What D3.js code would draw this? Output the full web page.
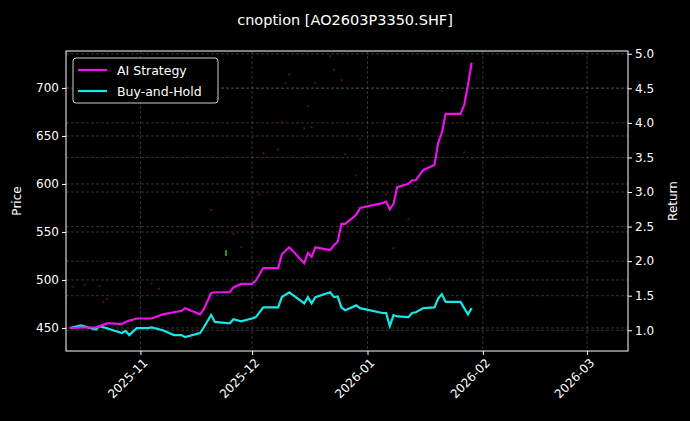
<!DOCTYPE html><html><head><meta charset="utf-8">
<script src="https://cdn.jsdelivr.net/npm/d3@7"></script>
<style>body{margin:0;background:#000}svg{font-family:"DejaVu Sans",sans-serif}</style></head><body>
<svg id="c" width="690" height="421"></svg>
<script>
const dates=["2025-10-13","2025-10-16","2025-10-20","2025-10-21","2025-10-23","2025-10-24","2025-10-27","2025-10-28","2025-10-29","2025-10-31","2025-11-03","2025-11-04","2025-11-07","2025-11-10","2025-11-12","2025-11-13","2025-11-17","2025-11-18","2025-11-20","2025-11-21","2025-11-25","2025-11-26","2025-11-28","2025-12-01","2025-12-02","2025-12-04","2025-12-08","2025-12-09","2025-12-11","2025-12-15","2025-12-16","2025-12-17","2025-12-18","2025-12-22","2025-12-23","2025-12-24","2025-12-25","2025-12-26","2025-12-29","2025-12-30","2026-01-05","2026-01-06","2026-01-07","2026-01-08","2026-01-09","2026-01-12","2026-01-13","2026-01-14","2026-01-16","2026-01-19","2026-01-20","2026-01-21","2026-01-22","2026-01-26","2026-01-27","2026-01-28","2026-01-29"];
const aiStrategy=[1.03,1.04,1.04,1.06,1.10,1.10,1.09,1.12,1.14,1.17,1.17,1.17,1.23,1.26,1.28,1.32,1.23,1.30,1.54,1.55,1.55,1.62,1.67,1.67,1.72,1.90,1.90,2.10,2.20,1.97,2.12,2.06,2.20,2.16,2.23,2.28,2.54,2.54,2.67,2.77,2.84,2.86,2.75,2.83,3.07,3.12,3.17,3.17,3.32,3.39,3.71,3.86,4.13,4.13,4.26,4.55,4.87];
const buyHold=[1.03,1.07,1.01,1.06,1.03,1.01,0.96,0.99,0.93,1.03,1.03,1.04,1.00,0.93,0.93,0.90,0.96,1.04,1.22,1.12,1.10,1.16,1.13,1.17,1.19,1.33,1.33,1.48,1.55,1.39,1.48,1.39,1.48,1.55,1.48,1.49,1.33,1.29,1.36,1.32,1.25,1.25,1.06,1.22,1.20,1.19,1.25,1.26,1.32,1.33,1.46,1.52,1.41,1.41,1.32,1.23,1.32];
const candleDates=["2025-10-14","2025-10-17","2025-10-21","2025-10-22","2025-10-23","2025-11-04","2025-11-06","2025-11-20","2025-11-26","2025-11-28","2025-12-01","2025-12-03","2025-12-04","2025-12-08","2025-12-09","2025-12-10","2025-12-11","2025-12-15","2025-12-16","2025-12-17","2025-12-18","2025-12-22","2025-12-23","2025-12-25","2025-12-26","2025-12-29","2025-12-30","2026-01-06","2026-01-07","2026-01-08","2026-01-12","2026-01-14","2026-01-16","2026-01-21","2026-01-27","2026-01-29"];
const candlePrices=[493,495,494,477,480,496,491,573,548,534,557,589,632,636,664,705,714,658,681,659,705,733,719,708,631,609,647,589,501,533,563,597,624,697,633,627];
const upDates=["2025-11-24"];const upPrices=[528];
const priceTicks=[450,500,550,600,650,700];
const returnTicks=[1.0,1.5,2.0,2.5,3.0,3.5,4.0,4.5,5.0];
const monthTicks=["2025-11-01","2025-12-01","2026-01-01","2026-02-01","2026-03-01"];

const P=d3.timeParse("%Y-%m-%d");
const svg=d3.select("#c");
const L=66,R=628,T=51,B=351;
const x=d3.scaleTime().domain([P("2025-10-12"),P("2026-03-12")]).range([L,R]);
const yP=d3.scaleLinear().domain([426,738.5]).range([B,T]);
const yR=d3.scaleLinear().domain([0.70,5.04]).range([B,T]);
svg.append("rect").attr("width",690).attr("height",421).attr("fill","#000");
const grid=svg.append("g").attr("stroke","#555").attr("stroke-dasharray","3,2").attr("stroke-width",0.6);
monthTicks.forEach(m=>grid.append("line").attr("x1",x(P(m))).attr("x2",x(P(m))).attr("y1",T).attr("y2",B));
priceTicks.forEach(v=>grid.append("line").attr("x1",L).attr("x2",R).attr("y1",yP(v)).attr("y2",yP(v)));
returnTicks.forEach(v=>grid.append("line").attr("x1",L).attr("x2",R).attr("y1",yR(v)).attr("y2",yR(v)));
svg.append("g").selectAll("rect").data(candleDates).join("rect").attr("x",(d)=>x(P(d))-1).attr("y",(d,i)=>yP(candlePrices[i])-1).attr("width",2).attr("height",2).attr("fill","#5a0c18");
svg.append("g").selectAll("rect").data(upDates).join("rect").attr("x",(d)=>x(P(d))-1).attr("y",(d,i)=>yP(upPrices[i])-3).attr("width",2).attr("height",6).attr("fill","#1a9a2a");
const line=(arr)=>d3.line().x((d,i)=>x(P(dates[i]))).y(d=>yR(d))(arr);
svg.append("path").attr("d",line(buyHold)).attr("fill","none").attr("stroke","#14e8e8").attr("stroke-width",2.2);
svg.append("path").attr("d",line(aiStrategy)).attr("fill","none").attr("stroke","#ee10ee").attr("stroke-width",2.2);
const fmt=d3.timeFormat("%Y-%m");
const ax=svg.append("g").attr("transform",`translate(0,${B})`).call(d3.axisBottom(x).tickValues(monthTicks.map(P)).tickFormat(fmt).tickSize(4));
ax.selectAll("text").attr("transform","rotate(-45)").attr("text-anchor","end").attr("dx","-0.3em").attr("dy","0.6em");
const al=svg.append("g").attr("transform",`translate(${L},0)`).call(d3.axisLeft(yP).tickValues(priceTicks).tickSize(4));
const ar=svg.append("g").attr("transform",`translate(${R},0)`).call(d3.axisRight(yR).tickValues(returnTicks).tickFormat(d3.format(".1f")).tickSize(4));
[ax,al,ar].forEach(a=>{a.select(".domain").remove();a.selectAll("line").attr("stroke","#fff");a.selectAll("text").attr("fill","#fff").attr("font-size",12).attr("font-family","DejaVu Sans");});
svg.append("rect").attr("x",L).attr("y",T).attr("width",R-L).attr("height",B-T).attr("fill","none").attr("stroke","#fff").attr("stroke-width",1);
svg.append("text").attr("x",345).attr("y",25).attr("text-anchor","middle").attr("fill","#fff").attr("font-size",14.5).text("cnoption [AO2603P3350.SHF]");
svg.append("text").attr("transform",`translate(21,${(T+B)/2}) rotate(-90)`).attr("text-anchor","middle").attr("fill","#fff").attr("font-size",12).text("Price");
svg.append("text").attr("transform",`translate(677,${(T+B)/2}) rotate(-90)`).attr("text-anchor","middle").attr("fill","#fff").attr("font-size",12).text("Return");
const lg=svg.append("g");
lg.append("rect").attr("x",73).attr("y",58).attr("width",145).attr("height",45).attr("rx",3).attr("fill","#000").attr("stroke","#ccc");
[["AI Strategy","#ee10ee"],["Buy-and-Hold","#14e8e8"]].forEach((e,i)=>{const y=70+i*21;
lg.append("line").attr("x1",78).attr("x2",107).attr("y1",y).attr("y2",y).attr("stroke",e[1]).attr("stroke-width",2.2);
lg.append("text").attr("x",117).attr("y",y+4.5).attr("fill","#fff").attr("font-size",12.5).text(e[0]);});
</script></body></html>
